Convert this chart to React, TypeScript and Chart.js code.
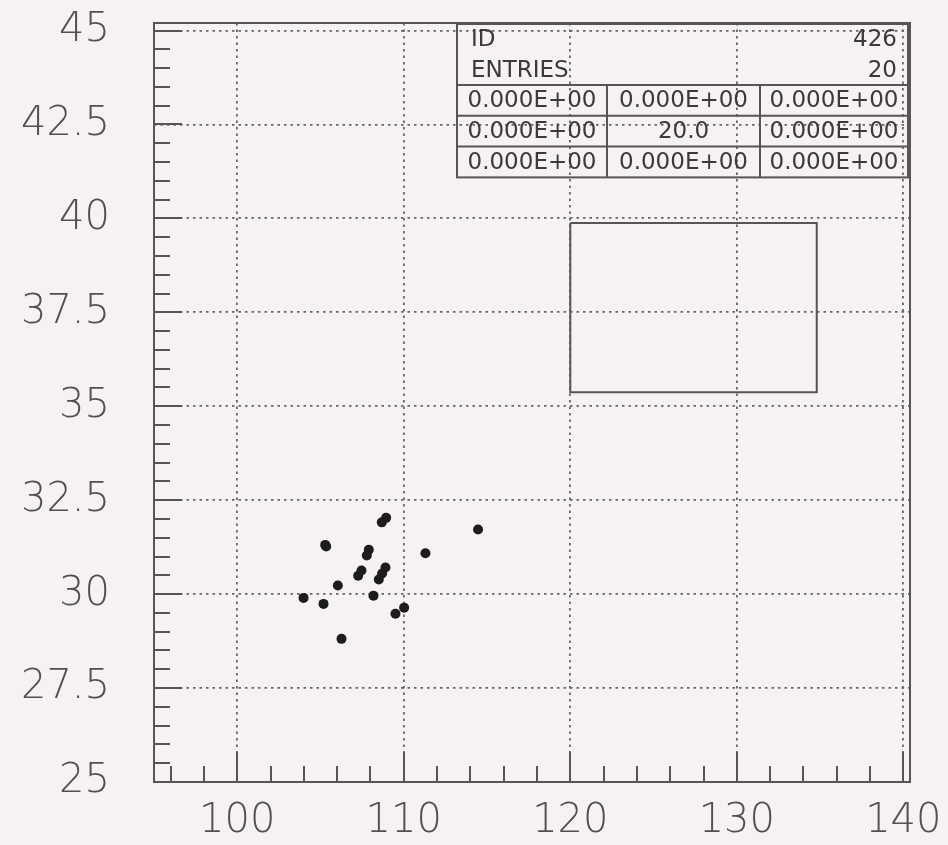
import React, { useEffect, useRef } from 'react';
import { Chart, registerables } from 'chart.js';

Chart.register(...registerables);

// ---- data ----
const xValues = [108.94, 108.68, 114.46, 105.34, 105.28, 107.9, 107.78, 111.3, 107.46, 107.26, 108.9, 108.7, 108.5, 106.04, 103.98, 108.18, 105.18, 110.02, 109.5, 106.26];
const yValues = [32.03, 31.91, 31.72, 31.27, 31.31, 31.18, 31.03, 31.09, 30.63, 30.49, 30.71, 30.55, 30.39, 30.23, 29.9, 29.96, 29.74, 29.64, 29.48, 28.81];

const boxX = [120, 134.8, 134.8, 120, 120];
const boxY = [39.88, 39.88, 35.37, 35.37, 39.88];

const xTickValues = [100, 110, 120, 130, 140];
const yTickValues = [25, 27.5, 30, 32.5, 35, 37.5, 40, 42.5, 45];
const xRange = [95, 140.4];
const yRange = [25, 45.2];
const xMinorStep = 2;
const yMinorStep = 0.5;

const statsHeaderLabels = ['ID', 'ENTRIES'];
const statsHeaderValues = ['426', '20'];
const statsRow1 = ['0.000E+00', '0.000E+00', '0.000E+00'];
const statsRow2 = ['0.000E+00', '20.0', '0.000E+00'];
const statsRow3 = ['0.000E+00', '0.000E+00', '0.000E+00'];

const BG = '#f5f2f1';
const FRAME = '#555555';
const GRID = '#666666';
const LABEL = '#505050';
const FONT = '"DejaVu Sans", "Liberation Sans", sans-serif';

const bgPlugin = {
  id: 'bg',
  beforeDraw(chart: any) {
    const ctx = chart.ctx;
    ctx.save();
    ctx.fillStyle = BG;
    ctx.fillRect(0, 0, chart.width, chart.height);
    ctx.restore();
  },
};

const framePlugin = {
  id: 'frame',
  afterDraw(chart: any) {
    const ctx = chart.ctx;
    const a = chart.chartArea;
    const xs = chart.scales.x;
    const ys = chart.scales.y;
    ctx.save();
    ctx.strokeStyle = FRAME;
    ctx.lineWidth = 2;
    ctx.strokeRect(a.left, a.top, a.right - a.left, a.bottom - a.top);

    // inward ticks, left axis
    for (let v = yRange[0]; v <= 45 + 1e-6; v += yMinorStep) {
      const isMajor = Math.abs(v / 2.5 - Math.round(v / 2.5)) < 1e-6;
      const py = Math.round(ys.getPixelForValue(v));
      const len = isMajor ? 28 : 16;
      ctx.beginPath();
      ctx.moveTo(a.left, py);
      ctx.lineTo(a.left + len, py);
      ctx.stroke();
    }
    // inward ticks, bottom axis
    for (let v = 96; v <= 140 + 1e-6; v += xMinorStep) {
      const isMajor = Math.abs(v / 10 - Math.round(v / 10)) < 1e-6;
      const px = Math.round(xs.getPixelForValue(v));
      const len = isMajor ? 30 : 16;
      ctx.beginPath();
      ctx.moveTo(px, a.bottom);
      ctx.lineTo(px, a.bottom - len);
      ctx.stroke();
    }

    // statistics table
    const left = a.right - 453;
    const right = a.right - 2;
    const top = a.top + 1;
    const headH = 30.5;
    const rowH = 30.8;
    const colX = [left, left + 150, left + 303, right];
    ctx.lineWidth = 2;
    ctx.strokeStyle = FRAME;
    const bodyTop = top + 2 * headH;
    const bottom = bodyTop + 3 * rowH;
    ctx.strokeRect(left, top, right - left, bottom - top);
    for (let r = 0; r < 3; r++) {
      const yy = bodyTop + r * rowH;
      ctx.beginPath();
      ctx.moveTo(left, yy);
      ctx.lineTo(right, yy);
      ctx.stroke();
    }
    for (let c = 1; c < 3; c++) {
      ctx.beginPath();
      ctx.moveTo(colX[c], bodyTop);
      ctx.lineTo(colX[c], bottom);
      ctx.stroke();
    }
    ctx.fillStyle = '#3a3a3a';
    ctx.font = `23px ${FONT}`;
    ctx.textBaseline = 'middle';
    for (let i = 0; i < statsHeaderLabels.length; i++) {
      const cy = top + headH * (i + 0.5) + 1;
      ctx.textAlign = 'left';
      ctx.fillText(statsHeaderLabels[i], left + 14, cy);
      ctx.textAlign = 'right';
      ctx.fillText(statsHeaderValues[i], right - 11, cy);
    }
    const rows = [statsRow1, statsRow2, statsRow3];
    ctx.textAlign = 'center';
    rows.forEach((row, r) => {
      const cy = bodyTop + rowH * (r + 0.5) + 1;
      row.forEach((txt, c) => {
        ctx.fillText(txt, (colX[c] + colX[c + 1]) / 2, cy);
      });
    });
    ctx.restore();
  },
};

export default function App() {
  const ref = useRef<HTMLCanvasElement | null>(null);

  useEffect(() => {
    document.body.style.margin = '0';
    document.body.style.background = BG;
    const canvas = ref.current;
    if (!canvas) return;
    const chart = new Chart(canvas, {
      type: 'scatter',
      data: {
        datasets: [
          {
            label: 'entries',
            data: xValues.map((x, i) => ({ x, y: yValues[i] })),
            backgroundColor: '#1c1c1c',
            borderColor: '#1c1c1c',
            pointRadius: 5,
            pointBorderWidth: 0,
          },
          {
            type: 'line',
            label: 'box',
            data: boxX.map((x, i) => ({ x, y: boxY[i] })),
            borderColor: FRAME,
            borderWidth: 2,
            pointRadius: 0,
            fill: false,
            tension: 0,
            showLine: true,
          } as any,
        ],
      },
      options: {
        responsive: false,
        animation: false,
        events: [],
        layout: { padding: { top: 23, right: 38, left: 0, bottom: 0 } },
        plugins: { legend: { display: false }, tooltip: { enabled: false } },
        scales: {
          x: {
            type: 'linear',
            min: xRange[0],
            max: xRange[1],
            afterBuildTicks: (s: any) => {
              s.ticks = xTickValues.map((v) => ({ value: v }));
            },
            afterFit: (s: any) => {
              s.height = 63;
              s.paddingLeft = 0;
              s.paddingRight = 0;
            },
            grid: { color: GRID, lineWidth: 1.8, drawTicks: false },
            border: { display: false, dash: [2.5, 4] },
            ticks: {
              color: LABEL,
              padding: 16,
              maxRotation: 0,
              autoSkip: false,
              font: { family: FONT, size: 40, weight: '200' as any },
              callback: (v: any) => String(v),
            },
          },
          y: {
            type: 'linear',
            min: yRange[0],
            max: yRange[1],
            afterBuildTicks: (s: any) => {
              s.ticks = yTickValues.map((v) => ({ value: v }));
            },
            afterFit: (s: any) => {
              s.width = 154;
              s.paddingTop = 0;
              s.paddingBottom = 0;
            },
            grid: { color: GRID, lineWidth: 1.8, drawTicks: false },
            border: { display: false, dash: [2.5, 4] },
            ticks: {
              color: LABEL,
              padding: 44,
              autoSkip: false,
              font: { family: FONT, size: 40, weight: '200' as any },
              callback: (v: any) => String(v),
            },
          },
        },
      },
      plugins: [bgPlugin, framePlugin],
    });
    return () => chart.destroy();
  }, []);

  return (
    <div style={{ width: 948, height: 845, background: BG }}>
      <canvas ref={ref} width={948} height={845} style={{ display: 'block', width: 948, height: 845 }} />
    </div>
  );
}
